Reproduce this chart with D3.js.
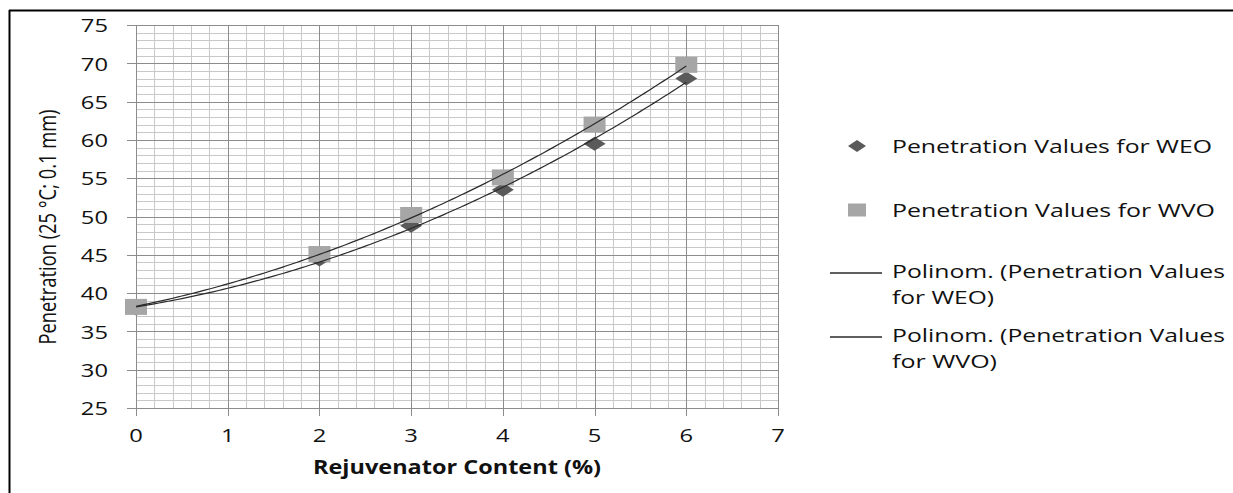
<!DOCTYPE html>
<html>
<head>
<meta charset="utf-8">
<script src="https://cdn.jsdelivr.net/npm/d3@7"></script>
<style>
  html, body { margin: 0; padding: 0; background: #fff; }
  svg { display: block; }
  text { font-family: "Open Sans", "DejaVu Sans", sans-serif; fill: #111; }
</style>
</head>
<body>
<svg id="chart" width="1233" height="493"></svg>
<script>
// ---- data ----
const contents = [0, 2, 3, 4, 5, 6];
const weoValues = [38, 44.4, 48.8, 53.5, 59.5, 68];
const wvoValues = [38.2, 45.1, 50.2, 55.1, 62.0, 69.8];
const xTickValues = [0, 1, 2, 3, 4, 5, 6, 7];
const yTickValues = [25, 30, 35, 40, 45, 50, 55, 60, 65, 70, 75];
const seriesNames = ["Penetration Values for WEO", "Penetration Values for WVO"];
const trendNames = [["Polinom. (Penetration Values", "for WEO)"], ["Polinom. (Penetration Values", "for WVO)"]];
const xTitle = "Rejuvenator Content (%)";
const yTitle = "Penetration (25 °C; 0.1 mm)";

// ---- layout ----
const svg = d3.select("#chart");
const x = d3.scaleLinear().domain([0, 7]).range([136, 778]);
const y = d3.scaleLinear().domain([25, 75]).range([408, 25]);
const SX = 1.32; // horizontal stretch of text

svg.append("rect").attr("width", 1233).attr("height", 493).attr("fill", "#fff");

// outer frame (top & left)
svg.append("line").attr("x1", 9).attr("x2", 1233).attr("y1", 10.5).attr("y2", 10.5)
  .attr("stroke", "#000").attr("stroke-width", 2);
svg.append("line").attr("x1", 9.5).attr("x2", 9.5).attr("y1", 10).attr("y2", 493)
  .attr("stroke", "#000").attr("stroke-width", 2);

// ---- grid ----
const grid = svg.append("g").attr("shape-rendering", "crispEdges");
const minorX = d3.range(0, 7.0001, 0.2).filter(v => Math.abs(v - Math.round(v)) > 1e-6);
const minorY = d3.range(25, 75.0001, 1).filter(v => v % 5 !== 0);
grid.selectAll(".mx").data(minorX).join("line")
  .attr("x1", d => Math.round(x(d)) + 0.5).attr("x2", d => Math.round(x(d)) + 0.5)
  .attr("y1", y(75)).attr("y2", y(25)).attr("stroke", "#c8c8c8").attr("stroke-width", 1.5);
grid.selectAll(".my").data(minorY).join("line")
  .attr("y1", d => Math.round(y(d)) + 0.5).attr("y2", d => Math.round(y(d)) + 0.5)
  .attr("x1", x(0)).attr("x2", x(7)).attr("stroke", "#c8c8c8").attr("stroke-width", 1.5);
grid.selectAll(".Mx").data(xTickValues).join("line")
  .attr("x1", d => Math.round(x(d)) + 0.5).attr("x2", d => Math.round(x(d)) + 0.5)
  .attr("y1", y(75)).attr("y2", y(25) + 8).attr("stroke", "#8c8c8c").attr("stroke-width", 1.5);
grid.selectAll(".My").data(yTickValues).join("line")
  .attr("y1", d => Math.round(y(d)) + 0.5).attr("y2", d => Math.round(y(d)) + 0.5)
  .attr("x1", x(0) - 9).attr("x2", x(7)).attr("stroke", "#8c8c8c").attr("stroke-width", 1.5);

// ---- tick labels ----
svg.append("g").selectAll("text").data(yTickValues).join("text")
  .attr("transform", d => `translate(108,${y(d)}) scale(${SX},1)`)
  .attr("text-anchor", "end").attr("dominant-baseline", "central")
  .attr("font-size", 18).text(d => d);
svg.append("g").selectAll("text").data(xTickValues).join("text")
  .attr("transform", d => `translate(${x(d)},435) scale(${SX},1)`)
  .attr("text-anchor", "middle").attr("dominant-baseline", "central")
  .attr("font-size", 18).text(d => d);

// ---- axis titles ----
svg.append("text").attr("x", 457).attr("y", 474).attr("text-anchor", "middle")
  .attr("font-size", 19).attr("font-weight", "bold")
  .attr("textLength", 288).attr("lengthAdjust", "spacingAndGlyphs").text(xTitle);
svg.append("text").attr("transform", "translate(47,227) rotate(-90) scale(1,1.35)")
  .attr("text-anchor", "middle").attr("dominant-baseline", "central")
  .attr("font-size", 17).attr("font-weight", "normal")
  .attr("textLength", 235).attr("lengthAdjust", "spacingAndGlyphs").text(yTitle);

// ---- markers ----
const diamond = (cx, cy, w, h) => `M${cx},${cy - h / 2}L${cx + w / 2},${cy}L${cx},${cy + h / 2}L${cx - w / 2},${cy}Z`;
const marks = svg.append("g");
marks.selectAll(".weo").data(contents).join("path")
  .attr("d", (d, i) => diamond(x(d), y(weoValues[i]), 22, 14))
  .attr("fill", "#5a5a5a");
marks.selectAll(".wvo").data(contents).join("rect")
  .attr("x", d => x(d) - 11).attr("y", (d, i) => y(wvoValues[i]) - 8)
  .attr("width", 22).attr("height", 16).attr("fill", "#a6a6a6");

// ---- polynomial (order 2) trendlines ----
function polyFit2(xs, ys) {
  let s = [0, 0, 0, 0, 0], t = [0, 0, 0];
  xs.forEach((xv, i) => {
    for (let k = 0; k <= 4; k++) s[k] += Math.pow(xv, k);
    for (let k = 0; k <= 2; k++) t[k] += Math.pow(xv, k) * ys[i];
  });
  const A = [[s[0], s[1], s[2], t[0]], [s[1], s[2], s[3], t[1]], [s[2], s[3], s[4], t[2]]];
  for (let c = 0; c < 3; c++) {
    let p = c;
    for (let r = c + 1; r < 3; r++) if (Math.abs(A[r][c]) > Math.abs(A[p][c])) p = r;
    [A[c], A[p]] = [A[p], A[c]];
    for (let r = 0; r < 3; r++) {
      if (r === c) continue;
      const f = A[r][c] / A[c][c];
      for (let k = c; k < 4; k++) A[r][k] -= f * A[c][k];
    }
  }
  const coef = [A[0][3] / A[0][0], A[1][3] / A[1][1], A[2][3] / A[2][2]];
  return xv => coef[0] + coef[1] * xv + coef[2] * xv * xv;
}
const fits = [polyFit2(contents, weoValues), polyFit2(contents, wvoValues)];
const xs = d3.range(0, 6.0001, 0.05);
const line = d3.line().x(d => x(d[0])).y(d => y(d[1])).curve(d3.curveLinear);
fits.forEach(f => {
  svg.append("path").attr("d", line(xs.map(v => [v, f(v)])))
    .attr("fill", "none").attr("stroke", "#2a2a2a").attr("stroke-width", 1.2);
});

// ---- legend ----
const lg = svg.append("g");
const lx = 892;
lg.append("path").attr("d", diamond(857, 146, 18, 12)).attr("fill", "#5a5a5a");
lg.append("text").attr("x", lx).attr("y", 153).attr("font-size", 18.5)
  .attr("textLength", 320).attr("lengthAdjust", "spacingAndGlyphs").text(seriesNames[0]);
lg.append("rect").attr("x", 848).attr("y", 203.5).attr("width", 18).attr("height", 13).attr("fill", "#a6a6a6");
lg.append("text").attr("x", lx).attr("y", 217).attr("font-size", 18.5)
  .attr("textLength", 323).attr("lengthAdjust", "spacingAndGlyphs").text(seriesNames[1]);
const trendRows = [{ ly: 273, b1: 278, b2: 304, w2: 102 }, { ly: 337, b1: 342, b2: 368, w2: 105 }];
trendRows.forEach((r, i) => {
  lg.append("line").attr("x1", 830).attr("x2", 882).attr("y1", r.ly).attr("y2", r.ly)
    .attr("stroke", "#2a2a2a").attr("stroke-width", 1.3);
  lg.append("text").attr("x", lx).attr("y", r.b1).attr("font-size", 18.5)
    .attr("textLength", 333).attr("lengthAdjust", "spacingAndGlyphs").text(trendNames[i][0]);
  lg.append("text").attr("x", lx).attr("y", r.b2).attr("font-size", 18.5)
    .attr("textLength", r.w2).attr("lengthAdjust", "spacingAndGlyphs").text(trendNames[i][1]);
});
</script>
</body>
</html>
